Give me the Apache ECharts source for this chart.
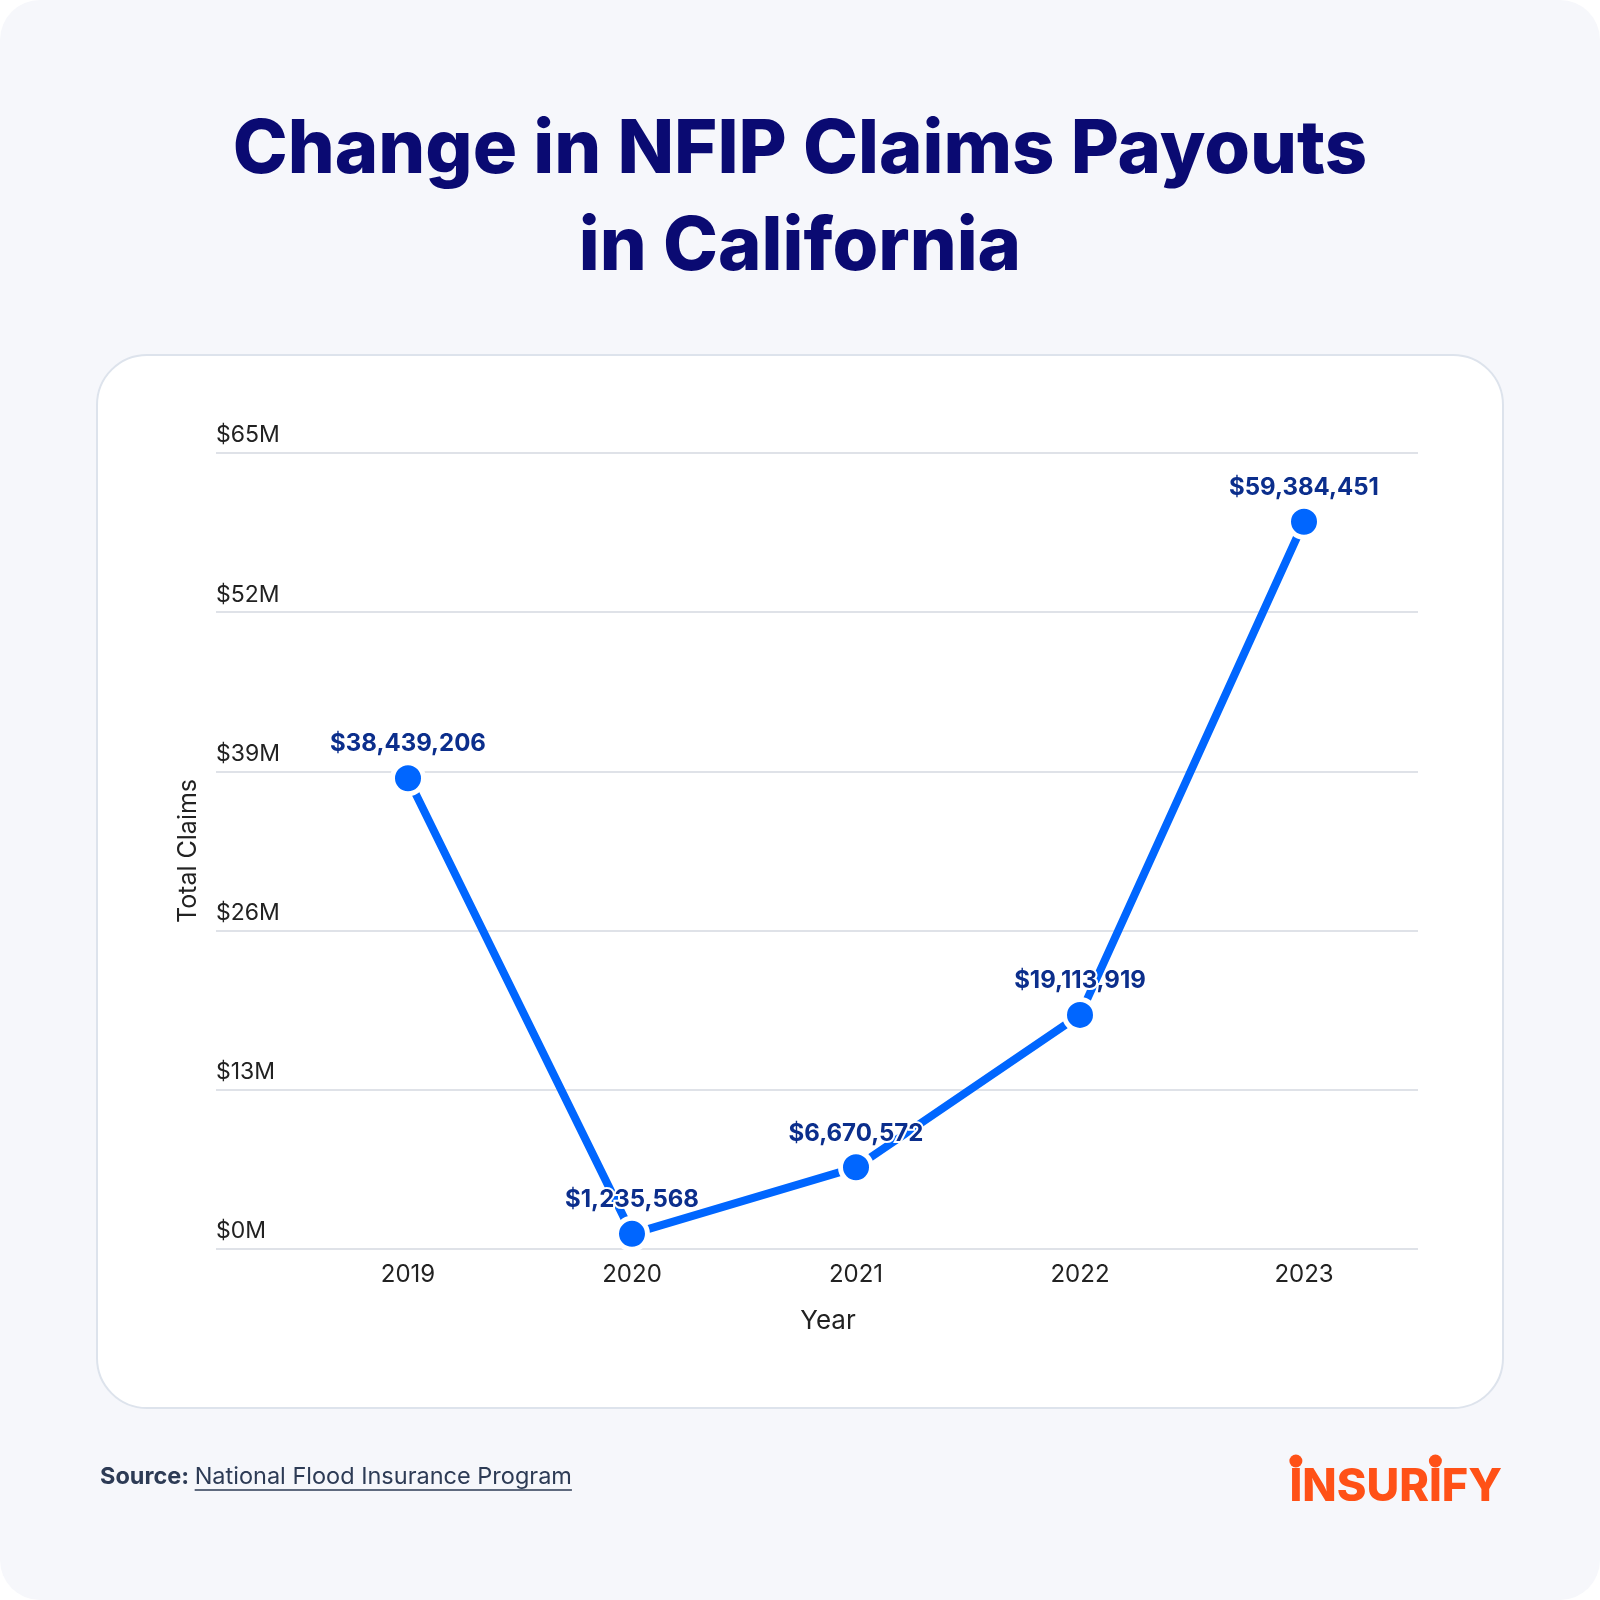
<!DOCTYPE html>
<html lang="en">
<head>
    <meta charset="UTF-8">
    <title>Change in NFIP Claims Payouts in California</title>
    <script src="https://cdn.jsdelivr.net/npm/echarts@6.0.0/dist/echarts.min.js"></script>
    <style>
        html, body { margin: 0; padding: 0; background: #fff; }
    </style>
</head>
<body>
<div id="main" style="width:1600px;height:1600px;"></div>
<script type="text/javascript">
    // data
    const years = ['2019', '2020', '2021', '2022', '2023'];
    const payouts = [38439206, 1235568, 6670572, 19113919, 59384451];
    const yMax = 65000000;
    const yStep = 13000000;

    const navy = '#0a0a72';
    const blue = '#0066ff';
    const labelBlue = '#0b2e8c';
    const ink = '#222222';
    const gridColor = '#dfe2e8';
    const font = 'Inter, "DejaVu Sans", sans-serif';

    // measure text so the underline and the logo dots sit right
    const ctx = document.createElement('canvas').getContext('2d');
    const textWidth = (str, f) => {
        ctx.font = f;
        return ctx.measureText(str).width;
    };

    const srcFontB = 'bold 23.5px Inter';
    const srcFont = '23.5px Inter';
    const srcX = 100;
    const linkX = srcX + textWidth('Source: ', srcFontB);
    const linkW = textWidth('National Flood Insurance Program', srcFont);

    const logoFont = '800 45px Inter';
    const logoRight = 1502;
    const logoW = textWidth('INSURIFY', logoFont);
    const logoX = logoRight - logoW;
    const iW = textWidth('I', logoFont);
    const dot1 = logoX + iW / 2;
    const dot2 = logoX + textWidth('INSUR', logoFont) + iW / 2;

    const myChart = echarts.init(document.getElementById('main'));

    const option = {
        backgroundColor: '#ffffff',
        animation: false,
        textStyle: {fontFamily: font},
        graphic: [
            // page background and card
            {type: 'rect', z: -10, shape: {x: 0, y: 0, width: 1600, height: 1600, r: 40}, style: {fill: '#f6f7fb'}},
            {type: 'rect', z: -9, shape: {x: 97, y: 355, width: 1406, height: 1053, r: 50},
                style: {fill: '#ffffff', stroke: '#dde3ec', lineWidth: 2}},
            // title
            {type: 'text', style: {
                x: 800, y: 102, text: 'Change in NFIP Claims Payouts\nin California',
                font: '800 74px Inter', lineHeight: 97, fill: navy, align: 'center'
            }},
            // source line
            {type: 'text', style: {x: srcX, y: 1477, text: 'Source:', font: srcFontB, fill: '#2d3b55', verticalAlign: 'middle'}},
            {type: 'text', style: {x: linkX, y: 1477, text: 'National Flood Insurance Program', font: srcFont, fill: '#2d3b55', verticalAlign: 'middle'}},
            {type: 'line', shape: {x1: linkX, y1: 1490, x2: linkX + linkW, y2: 1490}, style: {stroke: '#2d3b55', lineWidth: 1.5}},
            // logo
            {type: 'text', style: {x: logoX, y: 1487, text: 'INSURIFY', font: logoFont, fill: '#ff5117', verticalAlign: 'middle'}},
            {type: 'circle', shape: {cx: dot1, cy: 1461, r: 6.5}, style: {fill: '#ff5117'}},
            {type: 'circle', shape: {cx: dot2, cy: 1461, r: 6.5}, style: {fill: '#ff5117'}}
        ],
        grid: [
            // full width grid for the horizontal lines and axis names
            {left: 216, right: 182, top: 453, bottom: 351},
            // narrower grid that places the points
            {left: 408, right: 296, top: 453, bottom: 351}
        ],
        xAxis: [{
            gridIndex: 0,
            type: 'category',
            data: years,
            name: 'Year',
            nameLocation: 'middle',
            nameGap: 59,
            nameTextStyle: {color: ink, fontSize: 26, padding: [0, 0, 0, 22]},
            axisLine: {show: false},
            axisTick: {show: false},
            axisLabel: {show: false}
        }, {
            gridIndex: 1,
            type: 'category',
            data: years,
            boundaryGap: false,
            axisLine: {show: false},
            axisTick: {show: false},
            axisLabel: {color: ink, fontSize: 24, margin: 14}
        }],
        yAxis: [{
            gridIndex: 0,
            type: 'value',
            min: 0,
            max: yMax,
            interval: yStep,
            name: 'Total Claims',
            nameLocation: 'middle',
            nameGap: 15,
            nameTextStyle: {color: ink, fontSize: 25},
            axisLine: {show: false},
            axisTick: {show: false},
            splitLine: {lineStyle: {color: gridColor, width: 2}},
            axisLabel: {
                inside: true,
                margin: 0,
                align: 'left',
                verticalAlign: 'bottom',
                padding: [0, 0, 6, 0],
                color: ink,
                fontSize: 23,
                formatter: (v) => '$' + Math.round(v / 1000000) + 'M'
            }
        }, {
            gridIndex: 1,
            type: 'value',
            min: 0,
            max: yMax,
            interval: yStep,
            show: false
        }],
        series: [{
            type: 'line',
            xAxisIndex: 1,
            yAxisIndex: 1,
            data: payouts,
            symbol: 'circle',
            symbolSize: 31,
            lineStyle: {color: blue, width: 8},
            itemStyle: {color: blue, borderColor: '#ffffff', borderWidth: 5},
            label: {
                show: true,
                position: 'top',
                distance: 4,
                color: labelBlue,
                fontSize: 24,
                fontWeight: 'bold',
                textBorderColor: '#ffffff',
                textBorderWidth: 4,
                formatter: (p) => '$' + p.value.toLocaleString('en-US')
            },
            z: 3
        }]
    };

    myChart.setOption(option);
</script>
</body>
</html>
